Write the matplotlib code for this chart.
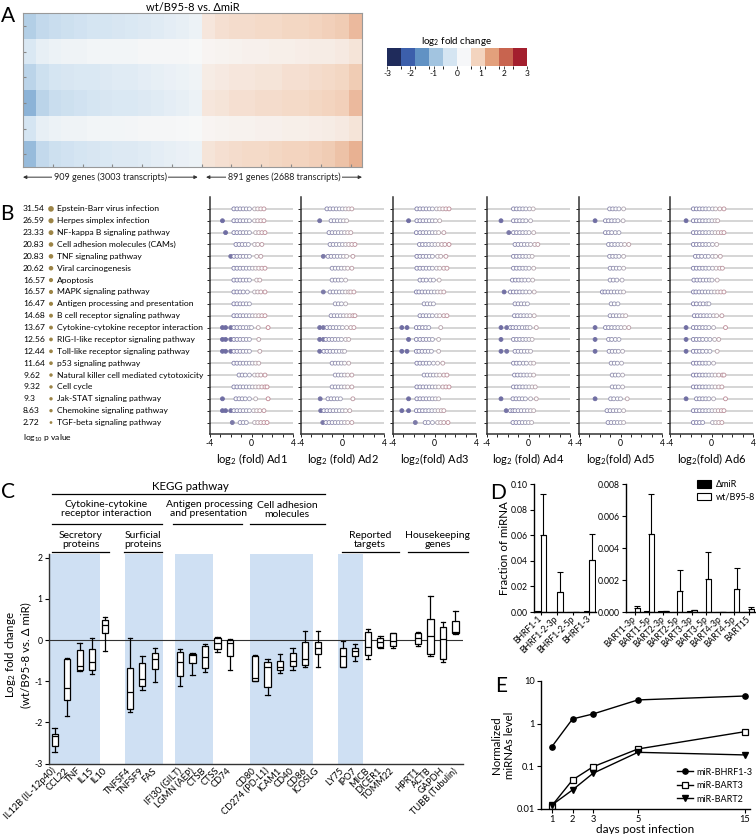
import numpy as np
import matplotlib
matplotlib.use('Agg')
import matplotlib.pyplot as plt
from matplotlib.colors import ListedColormap, BoundaryNorm, LinearSegmentedColormap, Normalize
from matplotlib.cm import ScalarMappable

plt.rcParams['font.family'] = ['Lato', 'DejaVu Sans']
plt.rcParams['mathtext.fontset'] = 'custom'
plt.rcParams['mathtext.rm'] = 'Lato'
plt.rcParams['mathtext.it'] = 'Lato:italic'
plt.rcParams['mathtext.bf'] = 'Lato:bold'
plt.rcParams['axes.unicode_minus'] = False

# ---------------- DATA ----------------
# Panel A: heatmap (6 donors), binned transcripts (left: down, right: up)
n_left_transcripts, n_right_transcripts = 3003, 2688
n_left_genes, n_right_genes = 909, 891
heat_row1 = [-1.0, -0.8, -0.75, -0.7, -0.65, -0.6, -0.6, -0.55, -0.5, -0.45, -0.4, -0.35, -0.3, -0.2,
             0.3, 0.4, 0.45, 0.45, 0.5, 0.5, 0.55, 0.55, 0.6, 0.65, 0.7, 0.9]
heat_row2 = [-0.5, -0.3, -0.2, -0.15, -0.15, -0.1, -0.1, -0.1, -0.1, -0.05, -0.05, -0.05, -0.05, -0.02,
             0.05, 0.08, 0.1, 0.12, 0.12, 0.15, 0.15, 0.18, 0.2, 0.2, 0.25, 0.35]
heat_row3 = [-0.9, -0.7, -0.6, -0.55, -0.5, -0.5, -0.45, -0.4, -0.4, -0.35, -0.3, -0.25, -0.2, -0.15,
             0.2, 0.25, 0.3, 0.3, 0.35, 0.35, 0.4, 0.4, 0.45, 0.5, 0.55, 0.7]
heat_row4 = [-1.4, -0.9, -0.75, -0.7, -0.65, -0.6, -0.55, -0.5, -0.5, -0.45, -0.4, -0.35, -0.3, -0.2,
             0.3, 0.35, 0.4, 0.4, 0.45, 0.45, 0.5, 0.5, 0.55, 0.6, 0.65, 0.9]
heat_row5 = [-0.6, -0.3, -0.2, -0.15, -0.15, -0.1, -0.1, -0.1, -0.08, -0.05, -0.05, -0.05, -0.03, -0.02,
             0.05, 0.08, 0.1, 0.1, 0.12, 0.12, 0.15, 0.15, 0.18, 0.2, 0.25, 0.35]
heat_row6 = [-1.3, -0.8, -0.7, -0.65, -0.6, -0.55, -0.5, -0.45, -0.45, -0.4, -0.35, -0.3, -0.25, -0.2,
             0.35, 0.4, 0.45, 0.5, 0.5, 0.55, 0.6, 0.6, 0.65, 0.7, 0.8, 1.0]
heat_left_bins, heat_right_bins = 14, 12
cbar_ticks = [-3, -2, -1, 0, 1, 2, 3]

# Panel B: pathways
pathways = ['Epstein-Barr virus infection', 'Herpes simplex infection', 'NF-kappa B signaling pathway',
            'Cell adhesion molecules (CAMs)', 'TNF signaling pathway', 'Viral carcinogenesis', 'Apoptosis',
            'MAPK signaling pathway', 'Antigen processing and presentation', 'B cell receptor signaling pathway',
            'Cytokine-cytokine receptor interaction', 'RIG-I-like receptor signaling pathway',
            'Toll-like receptor signaling pathway', 'p53 signaling pathway',
            'Natural killer cell mediated cytotoxicity', 'Cell cycle', 'Jak-STAT signaling pathway',
            'Chemokine signaling pathway', 'TGF-beta signaling pathway']
log10_p = [31.54, 26.59, 23.33, 20.83, 20.83, 20.62, 16.57, 16.57, 16.47, 14.68, 13.67, 12.56, 12.44,
           11.64, 9.62, 9.32, 9.3, 8.63, 2.72]
log10_p_text = ['31.54', '26.59', '23.33', '20.83', '20.83', '20.62', '16.57', '16.57', '16.47', '14.68',
                '13.67', '12.56', '12.44', '11.64', '9.62', '9.32', '9.3', '8.63', '2.72']

ad1 = [[-1.7, -1.4, -1.1, -0.8, -0.5, -0.2, 0.3, 0.6, 0.9, 1.2],
       [-2.8, -1.7, -1.4, -1.1, -0.8, -0.5, -0.2, 0.3, 0.6, 0.9, 1.2],
       [-2.5, -1.7, -1.4, -1.1, -0.8, -0.5, -0.2, 0.4, 0.7, 1.0, 1.3],
       [-1.5, -1.2, -0.9, -0.6, -0.3, 0.3, 0.6, 1.0],
       [-2.0, -1.7, -1.4, -1.1, -0.8, -0.5, -0.2, 0.5, 0.9],
       [-1.7, -1.4, -1.1, -0.8, -0.5, -0.2, 0.1, 0.4, 0.7, 1.0, 1.3],
       [-1.7, -1.4, -1.1, -0.8, -0.5, -0.2, 0.5, 0.8],
       [-1.7, -1.4, -1.1, -0.8, -0.4, 0.3, 0.6, 0.9, 1.3],
       [-1.7, -1.4, -1.1, -0.8, -0.5, -0.2],
       [-1.7, -1.4, -1.1, -0.8, -0.5, -0.2, 0.1, 0.4, 0.7, 1.0, 1.3],
       [-2.8, -2.5, -2.0, -1.7, -1.4, -1.1, -0.8, -0.5, -0.2, 0.0, 0.65, 1.6],
       [-2.8, -2.5, -2.0, -1.7, -1.4, -1.1, -0.8, -0.5, -0.2, 0.7],
       [-2.8, -2.5, -2.0, -1.7, -1.4, -1.1, -0.8, -0.5, -0.2, 0.8],
       [-1.7, -1.4, -1.1, -0.8, -0.5, -0.2, 0.1, 0.4, 0.7],
       [-1.2, -0.9, -0.6, -0.2, 0.3, 0.6, 0.9, 1.3],
       [-1.7, -1.4, -1.1, -0.8, -0.5, -0.2, 0.1, 0.4, 0.7, 1.0, 1.3, 1.5],
       [-2.8, -1.5, -1.2, -0.9, -0.6, -0.2, 0.4, 1.6],
       [-2.8, -2.5, -2.0, -1.7, -1.4, -1.1, -0.8, -0.5, -0.2, 0.2, 0.5, 0.8, 1.2],
       [-1.85, -1.1, -0.8, -0.5, 0.3, 0.6, 0.9, 1.2, 1.5]]
ad2 = [[-1.5, -1.2, -0.9, -0.6, -0.3, 0.0, 0.3, 0.6, 0.9],
       [-2.2, -1.1, -0.8, -0.5, -0.2, 0.1, 0.4],
       [-1.3, -1.0, -0.7, -0.4, -0.1, 0.2, 0.5, 0.8],
       [-1.2, -0.9, -0.6, -0.3, 0.0, 0.3, 0.6, 0.9, 1.2],
       [-1.85, -1.4, -1.1, -0.8, -0.5, -0.2, 0.1, 0.4, 1.0],
       [-1.0, -0.7, -0.4, -0.1, 0.2, 0.5, 0.9],
       [-1.0, -0.7, -0.4, -0.1, 0.3],
       [-1.85, -1.2, -0.9, -0.6, -0.3, 0.0, 0.3, 0.6, 0.8, 1.1],
       [-0.7, -0.4, -0.1, 0.3],
       [-1.1, -0.8, -0.5, -0.2, 0.1, 0.4, 0.7, 1.0, 1.2],
       [-2.2, -1.85, -1.5, -1.2, -0.9, -0.6, -0.3, 0.0, 0.4, 0.8, 1.1],
       [-2.2, -1.85, -1.6, -1.3, -1.0, -0.7, -0.4, -0.1, 0.3, 0.6],
       [-2.2, -1.8, -1.5, -1.2, -0.9, -0.6, -0.3, 0.0, 0.2],
       [-1.0, -0.7, -0.4, -0.1, 0.2, 0.6],
       [-0.7, -0.4, -0.1, 0.2, 0.5, 0.9],
       [-1.0, -0.7, -0.4, -0.1, 0.2, 0.5, 0.9],
       [-2.15, -1.4, -1.1, -0.8, -0.5, -0.2, 1.0],
       [-2.1, -1.8, -1.5, -1.2, -0.9, -0.6, -0.3, 0.0, 0.3, 0.7],
       [-1.9, -1.6, -1.3, -1.0, -0.7, -0.4, -0.1, 0.2, 0.5, 0.9]]
ad3 = [[-1.7, -1.4, -1.1, -0.8, -0.5, -0.2, 0.2, 0.5, 0.8, 1.1, 1.4],
       [-2.5, -1.7, -1.4, -1.1, -0.8, -0.5, -0.2, 0.1, 0.5],
       [-1.75, -1.4, -1.1, -0.8, -0.5, -0.2, 0.1, 0.4, 0.9],
       [-1.45, -1.15, -0.85, -0.55, -0.25, 0.05, 0.35, 0.7, 1.0, 1.4],
       [-1.7, -1.4, -1.1, -0.8, -0.5, -0.2, 0.3, 0.6, 1.1],
       [-1.7, -1.4, -1.1, -0.8, -0.5, -0.2, 0.2, 0.5, 0.9, 1.2],
       [-1.4, -1.1, -0.8, -0.4, -0.1, 0.45],
       [-1.75, -1.5, -1.2, -0.9, -0.6, -0.3, 0.0, 0.3, 0.6, 0.9],
       [-1.0, -0.7, -0.4, -0.1],
       [-1.4, -1.1, -0.8, -0.5, -0.2, 0.2, 0.5, 0.9, 1.2],
       [-3.15, -2.65, -1.75, -1.45, -1.15, -0.85, -0.55, 0.6],
       [-2.5, -1.75, -1.4, -1.1, -0.8, -0.5, -0.2, 0.4],
       [-3.15, -2.65, -1.75, -1.5, -1.2, -0.9, -0.6, -0.3, 0.4],
       [-1.7, -1.4, -1.1, -0.8, -0.5, -0.1, 0.3, 0.8],
       [-1.0, -0.7, -0.4, -0.1, 0.2, 0.5, 0.9, 1.2],
       [-1.7, -1.4, -1.1, -0.8, -0.5, -0.2, 0.1, 0.4, 0.8, 1.1, 1.4],
       [-2.5, -1.7, -1.4, -1.1, -0.8, -0.5, -0.2, 0.1, 0.4],
       [-3.15, -2.5, -1.75, -1.45, -1.15, -0.85, -0.55, -0.25, 0.05, 0.35, 0.65, 0.9],
       [-1.85, -0.9, -0.6, -0.2, 0.3, 0.6, 0.9, 1.3]]
ad4 = [[-1.45, -1.15, -0.85, -0.55, -0.25, 0.1, 0.45],
       [-2.65, -1.45, -1.15, -0.85, -0.55, -0.25, 0.2],
       [-1.9, -1.45, -1.15, -0.85, -0.55, -0.25, 0.05, 0.5],
       [-1.3, -1.0, -0.7, -0.4, -0.1, 0.2, 0.6, 0.9],
       [-1.45, -1.15, -0.85, -0.55, -0.25, 0.05, 0.35],
       [-1.45, -1.15, -0.85, -0.55, -0.25, 0.05, 0.5],
       [-1.55, -1.25, -0.95, -0.65, -0.35, 0.0, 0.4],
       [-2.35, -1.75, -1.45, -1.15, -0.85, -0.55, -0.25, 0.1, 0.55],
       [-1.3, -1.0, -0.7, -0.4, -0.1],
       [-1.35, -1.05, -0.75, -0.45, -0.15, 0.15, 0.55],
       [-2.65, -2.1, -1.75, -1.5, -1.2, -0.9, -0.6, -0.3, -0.1, 0.15, 0.75],
       [-2.65, -1.45, -1.15, -0.85, -0.55, -0.25, 0.05, 0.35],
       [-2.65, -2.1, -1.3, -1.0, -0.7, -0.4, -0.1, 0.2],
       [-1.45, -1.15, -0.85, -0.5, -0.2, 0.2, 0.5],
       [-1.35, -1.05, -0.75, -0.45, -0.15, 0.15, 0.5],
       [-1.45, -1.15, -0.85, -0.55, -0.25, 0.05, 0.35, 0.65],
       [-2.65, -1.5, -1.2, -0.9, -0.6, -0.3, 0.2, 0.75],
       [-2.15, -1.75, -1.5, -1.3, -1.0, -0.7, -0.4, -0.1, 0.2, 0.5],
       [-1.5, -1.2, -0.9, -0.6, -0.3, 0.0, 0.3]]
ad5 = [[-1.05, -0.75, -0.45, -0.15, 0.3],
       [-2.45, -1.45, -1.15, -0.85, -0.55, -0.25, 0.25],
       [-1.45, -1.15, -0.85, -0.5, -0.15],
       [-1.15, -0.85, -0.55, -0.25, 0.05, 0.4, 0.8],
       [-1.05, -0.75, -0.45, -0.15, 0.3],
       [-1.0, -0.7, -0.4, -0.1, 0.3],
       [-1.0, -0.7, -0.35, 0.15],
       [-1.75, -1.5, -1.2, -0.9, -0.6, -0.3, 0.0, 0.3],
       [-0.9, -0.6, -0.25],
       [-1.0, -0.7, -0.4, -0.1, 0.2, 0.5],
       [-2.45, -1.45, -1.15, -0.85, -0.55, -0.25, 0.05, 0.4, 0.8],
       [-2.45, -1.15, -0.85, -0.5, -0.15],
       [-2.45, -1.1, -0.8, -0.5, -0.2, 0.2],
       [-0.9, -0.6, -0.3, 0.1],
       [-0.8, -0.5, -0.2, 0.2],
       [-0.8, -0.5, -0.2, 0.2],
       [-2.45, -0.95, -0.65, -0.3, 0.0, 0.65],
       [-1.3, -1.0, -0.7, -0.4, -0.1, 0.3],
       [-1.2, -0.9, -0.6, -0.3, 0.0, 0.3]]
ad6 = [[-1.75, -1.45, -1.15, -0.85, -0.55, -0.25, 0.1, 0.4, 0.8, 1.2],
       [-2.45, -1.75, -1.45, -1.15, -0.85, -0.55, -0.25, 0.05, 0.35, 0.6],
       [-1.75, -1.45, -1.15, -0.85, -0.55, -0.25, 0.05, 0.35, 0.65, 0.95, 1.2],
       [-1.75, -1.45, -1.15, -0.85, -0.55, -0.25, 0.1, 0.5],
       [-1.55, -1.25, -0.95, -0.6, -0.3, 0.1, 0.4, 0.85],
       [-1.75, -1.45, -1.15, -0.85, -0.55, -0.25, 0.1, 0.45, 0.8, 1.05],
       [-1.7, -1.4, -1.1, -0.8, -0.5, -0.2, 0.05, 0.55],
       [-1.75, -1.5, -1.2, -0.9, -0.6, -0.3, 0.0, 0.3, 0.6, 0.9, 1.2],
       [-1.75, -1.45, -1.1, -0.8, -0.45, -0.25],
       [-1.65, -1.35, -1.05, -0.75, -0.45, -0.15, 0.2, 0.5, 1.0],
       [-2.45, -1.75, -1.45, -1.15, -0.85, -0.55, -0.25, 0.2, 1.35],
       [-2.45, -1.75, -1.45, -1.15, -0.85, -0.5, -0.15, 0.3, 0.7],
       [-2.45, -1.75, -1.45, -1.15, -0.85, -0.5, -0.15, 0.55],
       [-1.75, -1.45, -1.15, -0.85, -0.55, -0.25, 0.2],
       [-1.75, -1.45, -1.15, -0.85, -0.55, -0.25, 0.05, 0.35, 0.7, 1.05, 1.2],
       [-1.75, -1.45, -1.15, -0.85, -0.55, -0.25, 0.05, 0.35, 0.7, 1.0],
       [-2.45, -1.45, -1.15, -0.85, -0.55, -0.25, 0.2, 1.35],
       [-1.75, -1.45, -1.15, -0.85, -0.55, -0.25, 0.05, 0.35, 0.65, 0.95, 1.2],
       [-1.75, -1.45, -1.15, -0.85, 0.1, 0.4, 0.7, 1.0]]
ad_labels = ['log$_2$ (fold) Ad1', 'log$_2$ (fold) Ad2', 'log$_2$(fold) Ad3',
             'log$_2$ (fold) Ad4', 'log$_2$(fold) Ad5', 'log$_2$(fold) Ad6']

# Panel C: box plots (whisker low, Q1, median, Q3, whisker high)
c_genes = ['IL12B (IL-12p40)', 'CCL22', 'TNF', 'IL15', 'IL10',
           'TNFSF4', 'TNFSF9', 'FAS',
           'IFI30 (GILT)', 'LGMN (AEP)', 'CTSB', 'CTSS', 'CD74',
           'CD80', 'CD274 (PD-L1)', 'ICAM1', 'CD40', 'CD86', 'ICOSLG',
           'LY75', 'IPO7', 'MICB', 'DICER1', 'TOMM22',
           'HPRT1', 'ACTB', 'GAPDH', 'TUBB (Tubulin)']
c_group_sizes = [5, 3, 5, 6, 5, 4]
c_shaded_groups = [(0, 3), (5, 7), (8, 10), (13, 17), (19, 20)]  # gene index ranges with blue background
c_whishi = [-2.14, -0.43, -0.08, 0.06, 0.56, 0.06, -0.38, -0.20, -0.22, -0.32, -0.10, 0.08, 0.02,
            -0.36, -0.45, -0.35, -0.20, 0.23, 0.23, -0.02, -0.10, 0.26, 0.10, 0.18, 0.20, 1.07, 0.44, 0.70]
c_q3 = [-2.27, -0.47, -0.24, -0.23, 0.48, -0.69, -0.55, -0.31, -0.30, -0.35, -0.15, 0.04, 0.00,
        -0.38, -0.53, -0.51, -0.31, -0.06, -0.04, -0.19, -0.19, 0.19, 0.04, 0.16, 0.18, 0.51, 0.31, 0.46]
c_med = [-2.33, -1.16, -0.63, -0.54, 0.36, -1.27, -0.95, -0.45, -0.53, -0.36, -0.42, -0.08, -0.08,
         -0.91, -0.66, -0.65, -0.51, -0.45, -0.20, -0.38, -0.27, -0.18, -0.06, -0.02, 0.04, 0.10, 0.02, 0.20]
c_q1 = [-2.57, -1.46, -0.74, -0.73, 0.16, -1.67, -1.11, -0.71, -0.87, -0.57, -0.67, -0.23, -0.38,
        -0.99, -1.13, -0.74, -0.62, -0.61, -0.34, -0.65, -0.39, -0.36, -0.16, -0.15, -0.10, -0.35, -0.45, 0.16]
c_whislo = [-2.73, -1.84, -0.75, -0.83, -0.27, -1.74, -1.21, -1.01, -1.12, -0.85, -0.77, -0.30, -0.73,
            -0.99, -1.33, -0.79, -0.73, -0.66, -0.65, -0.66, -0.51, -0.45, -0.20, -0.20, -0.14, -0.39, -0.53, 0.15]

# Panel D
d_left_labels = ['BHRF1-1', 'BHRF1-2-3p', 'BHRF1-2-5p', 'BHRF1-3']
d_left_dmir = [0.0004, 0.0003, 0.0003, 0.0004]
d_left_wt = [0.060, 0.0153, 0.0003, 0.041]
d_left_wt_err = [0.032, 0.0157, 0.0, 0.020]
d_right_labels = ['BART1-3p', 'BART1-5p', 'BART2-3p', 'BART2-5p', 'BART3-3p', 'BART3-5p',
                  'BART4-3p', 'BART4-5p', 'BART15']
d_right_dmir = [0.00003, 0.00004, 0.00006, 0.00003, 0.00005, 0.00003, 0.00003, 0.00003, 0.00003]
d_right_wt = [0.00025, 0.0049, 0.00005, 0.0013, 0.0001, 0.00206, 0.00003, 0.00143, 0.0002]
d_right_wt_err = [0.00015, 0.0025, 0.0, 0.0013, 0.00003, 0.0017, 0.0, 0.00135, 0.00012]

# Panel E
e_days = [1, 2, 3, 5, 15]
e_bhrf1_3 = [0.29, 1.29, 1.69, 3.6, 4.45]
e_bart3 = [0.012, 0.048, 0.098, 0.255, 0.65]
e_bart2 = [0.0124, 0.028, 0.069, 0.213, 0.185]

# ---------------- FIGURE ----------------
W, H = 756, 834
fig = plt.figure(figsize=(W / 100, H / 100), dpi=100)


def ax_px(x, y, w, h):
    return fig.add_axes([x / W, 1 - (y + h) / H, w / W, h / H])


cb_colors = ['#1f2b5b', '#3c5fab', '#6192c4', '#a2c4e0', '#d5e5f2', '#f6f7f9',
             '#f3d4bf', '#e3a07c', '#c8644f', '#a31f2e']
heat_cmap = LinearSegmentedColormap.from_list('heat', [
    (0.0, '#1f2b5b'), (0.1, '#3c5fab'), (0.2, '#6192c4'), (0.3, '#a2c4e0'), (0.4, '#d5e5f2'),
    (0.5, '#f8f8f8'), (0.6, '#f3d4bf'), (0.7, '#e3a07c'), (0.8, '#c8644f'), (0.9, '#a31f2e'),
    (1.0, '#7a1020')])

# ---- Panel A ----
axA = ax_px(23, 13, 339, 154)
heat = np.array([heat_row1, heat_row2, heat_row3, heat_row4, heat_row5, heat_row6])
n_tot = n_left_transcripts + n_right_transcripts
xedges = np.concatenate([np.linspace(0, n_left_transcripts, heat_left_bins + 1),
                         np.linspace(n_left_transcripts, n_tot, heat_right_bins + 1)[1:]])
axA.pcolormesh(xedges, np.arange(heat.shape[0] + 1), heat, cmap=heat_cmap, vmin=-3, vmax=3)
axA.set_xlim(0, n_tot)
axA.set_ylim(heat.shape[0], 0)
axA.set_xticks(np.arange(500, n_tot, 500))
axA.set_yticks(np.arange(heat.shape[0]) + 0.5)
axA.tick_params(direction='in', length=2, color='#888888', labelbottom=False, labelleft=False)
for s in axA.spines.values():
    s.set_color('#999999')
    s.set_linewidth(0.8)
axA.set_title('wt/B95-8 vs. ΔmiR', fontsize=8, pad=1.5)
tr = axA.get_xaxis_transform()
gap = 70
for (x0, x1, txt) in [(0, n_left_transcripts - gap,
                       f'{n_left_genes} genes ({n_left_transcripts} transcripts)'),
                      (n_left_transcripts + gap, n_tot,
                       f'{n_right_genes} genes ({n_right_transcripts} transcripts)')]:
    axA.annotate('', xy=(x0, -0.066), xytext=(x1, -0.066), xycoords=tr, textcoords=tr,
                 arrowprops=dict(arrowstyle='<|-|>', color='#333333', lw=0.7, mutation_scale=5,
                                 shrinkA=0, shrinkB=0), annotation_clip=False)
    axA.text((x0 + x1) / 2, -0.066, txt, transform=tr, ha='center', va='center', fontsize=6.5,
             color='#222222', bbox=dict(facecolor='white', edgecolor='none', pad=1.2), clip_on=False)

axCB = ax_px(387, 48, 140, 18)
sm = ScalarMappable(norm=BoundaryNorm(np.linspace(-3, 3, 11), 10), cmap=ListedColormap(cb_colors))
cb = fig.colorbar(sm, cax=axCB, orientation='horizontal', ticks=cbar_ticks)
cb.outline.set_visible(False)
cb.ax.tick_params(labelsize=6, length=2, width=0.5, pad=1)
cb.ax.set_title('log$_2$ fold change', fontsize=7, pad=2)

# ---- Panel B ----
axL = ax_px(0, 197, 205, 237.4)
axL.set_xlim(0, 205)
axL.set_ylim(19, -1)
axL.axis('off')
for i, (name, p, ptxt) in enumerate(zip(pathways, log10_p, log10_p_text)):
    axL.text(23, i, ptxt, fontsize=6.1, va='center', ha='left')
    axL.text(57, i, name, fontsize=6.1, va='center', ha='left')
    d_pt = (2.5 + 0.1 * p) * 0.72
    axL.scatter([51], [i], s=d_pt ** 2, color='#9c8446', edgecolors='none', clip_on=False)
axL.text(23, 19.3, 'log$_{10}$ p value', fontsize=6.1, va='center', ha='left', clip_on=False)

edge_cmap = LinearSegmentedColormap.from_list('edge', [(0.0, '#6f6da3'), (0.55, '#a09fb6'),
                                                       (0.65, '#b6a8b0'), (1.0, '#c27886')])
edge_norm = Normalize(-2.5, 2.0)
panel_x = [210, 301, 393, 487, 579, 670]
for ax_x, dat, lab in zip(panel_x, [ad1, ad2, ad3, ad4, ad5, ad6], ad_labels):
    ax = ax_px(ax_x, 197, 83, 237.4)
    ax.set_xlim(-4, 4)
    ax.set_ylim(19, -1)
    for i, row in enumerate(dat):
        ax.axhline(i, color='#d5d5d5', lw=1.4, zorder=1)
        v = np.array(row)
        ec = edge_cmap(edge_norm(v))
        fc = [ec[j] if v[j] < -1.8 else (1, 1, 1, 1) for j in range(len(v))]
        ax.scatter(v, np.full(len(v), i), s=8, facecolors=fc, edgecolors=ec, linewidths=0.6, zorder=3)
    for s in ['top', 'right']:
        ax.spines[s].set_visible(False)
    for s in ['left', 'bottom']:
        ax.spines[s].set_linewidth(1.1)
        ax.spines[s].set_color('#333333')
    ax.set_yticks(range(len(dat)))
    ax.set_yticklabels([])
    ax.set_xticks([-4, 0, 4])
    ax.set_xticks(range(-4, 5), minor=True)
    ax.tick_params(axis='both', which='both', length=2, width=0.6, labelsize=6.2, pad=1.5)
    ax.set_xlabel(lab, fontsize=8, labelpad=2)

# ---- Panel C ----
axC = ax_px(49, 553.5, 414, 210.1)
positions = []
start = 0
for g in c_group_sizes:
    positions.extend(range(start, start + g))
    start += g + 1
positions = np.array(positions, dtype=float)
for a, b in c_shaded_groups:
    axC.axvspan(positions[a] - 0.4, positions[b] + 0.62, color='#cfe0f3', lw=0, zorder=0)
axC.axhline(0, color='#333333', lw=0.8, zorder=1)
stats = [dict(whislo=lo, q1=q1, med=m, q3=q3, whishi=hi, fliers=[])
         for lo, q1, m, q3, hi in zip(c_whislo, c_q1, c_med, c_q3, c_whishi)]
lp = dict(color='black', lw=0.9)
axC.bxp(stats, positions=positions, widths=0.5, capwidths=0.35, patch_artist=True, showfliers=False,
        boxprops=dict(facecolor='white', edgecolor='black', lw=0.9), medianprops=lp,
        whiskerprops=lp, capprops=lp, zorder=3)
axC.set_xlim(-0.45, 32.6)
axC.set_ylim(-3, 2.1)
axC.set_yticks([-3, -2, -1, 0, 1, 2])
axC.set_xticks(positions)
axC.set_xticklabels(c_genes, rotation=45, ha='right', va='center', rotation_mode='anchor', fontsize=6.7)
axC.tick_params(axis='x', length=0, pad=4)
axC.tick_params(axis='y', length=3, width=0.8, labelsize=6.2, pad=1.5)
for s in ['top', 'right']:
    axC.spines[s].set_visible(False)
for s in ['left', 'bottom']:
    axC.spines[s].set_linewidth(1.0)
    axC.spines[s].set_color('#333333')
    axC.spines[s].set_zorder(4)

# ---- Panel D ----
bw = 0.35
axD1 = ax_px(534, 484, 62, 128)
xi = np.arange(len(d_left_labels))
axD1.bar(xi - bw / 2, d_left_dmir, width=bw, color='black', edgecolor='black', lw=0.8)
axD1.bar(xi + bw / 2, d_left_wt, width=bw, color='white', edgecolor='black', lw=0.8)
axD1.errorbar(xi + bw / 2, d_left_wt, yerr=[np.zeros(len(xi)), d_left_wt_err], fmt='none',
              ecolor='black', elinewidth=0.8, capsize=2, capthick=0.8)
axD1.set_xlim(-0.4, 3.4)
axD1.set_ylim(0, 0.10)
axD1.set_yticks(np.arange(0, 0.101, 0.02))
axD1.yaxis.set_major_formatter(matplotlib.ticker.FormatStrFormatter('%.2f'))
axD1.set_xticks(xi)
axD1.set_xticklabels(d_left_labels, rotation=45, ha='right', va='center', rotation_mode='anchor',
                     fontsize=6.2)

axD2 = ax_px(626, 484, 129, 128)
xj = np.arange(len(d_right_labels))
axD2.bar(xj - bw / 2, d_right_dmir, width=bw, color='black', edgecolor='black', lw=0.8, label='ΔmiR')
axD2.bar(xj + bw / 2, d_right_wt, width=bw, color='white', edgecolor='black', lw=0.8, label='wt/B95-8')
axD2.errorbar(xj + bw / 2, d_right_wt, yerr=[np.zeros(len(xj)), d_right_wt_err], fmt='none',
              ecolor='black', elinewidth=0.8, capsize=2, capthick=0.8)
axD2.set_xlim(-0.6, 8.45)
axD2.set_ylim(0, 0.008)
axD2.set_yticks(np.arange(0, 0.0081, 0.002))
axD2.yaxis.set_major_formatter(matplotlib.ticker.FormatStrFormatter('%.3f'))
axD2.set_xticks(xj)
axD2.set_xticklabels(d_right_labels, rotation=45, ha='right', va='center', rotation_mode='anchor',
                     fontsize=6.2)
axD2.legend(loc='upper right', bbox_to_anchor=(1.03, 1.06), frameon=False, fontsize=6.5,
            handlelength=1.6, handleheight=0.9, borderaxespad=0, labelspacing=0.4, handletextpad=0.5)
for ax in (axD1, axD2):
    for s in ['top', 'right']:
        ax.spines[s].set_visible(False)
    for s in ['left', 'bottom']:
        ax.spines[s].set_linewidth(1.0)
    ax.tick_params(axis='y', length=3, width=0.8, labelsize=6.2, pad=1.5)
    ax.tick_params(axis='x', length=2, width=0.8, pad=2)

# ---- Panel E ----
day_bp = [-5, 1, 3, 5, 15, 40]
pos_bp = [-6, 0, 2, 4.17, 9.37, 9.37 + 25 * 0.52]


def fwd(d):
    return np.interp(d, day_bp, pos_bp)


def inv(p):
    return np.interp(p, pos_bp, day_bp)


axE = ax_px(541, 681, 209, 128)
axE.set_yscale('log')
axE.set_xscale('function', functions=(fwd, inv))
axE.plot(e_days, e_bhrf1_3, '-o', color='black', lw=1, ms=3.8, label='miR-BHRF1-3')
axE.plot(e_days, e_bart3, '-s', color='black', mfc='white', mew=0.9, lw=1, ms=4.8, label='miR-BART3')
axE.plot(e_days, e_bart2, '-v', color='black', lw=1, ms=3.8, label='miR-BART2')
axE.set_xlim(0.47, 15.46)
axE.set_ylim(0.01, 10)
axE.set_xticks(e_days)
axE.set_xticklabels([str(d) for d in e_days])
axE.xaxis.set_minor_locator(matplotlib.ticker.NullLocator())
axE.set_yticks([0.01, 0.1, 1, 10])
axE.set_yticklabels(['0.01', '0.1', '1', '10'])
axE.yaxis.set_minor_locator(matplotlib.ticker.NullLocator())
axE.tick_params(length=3, width=0.8, labelsize=6.7, pad=1.5)
for s in ['top', 'right']:
    axE.spines[s].set_visible(False)
for s in ['left', 'bottom']:
    axE.spines[s].set_linewidth(1.0)
axE.set_xlabel('days post infection', fontsize=8.5, labelpad=0)
axE.legend(loc='lower right', bbox_to_anchor=(1.04, 0.0), frameon=False, fontsize=6.5,
           handlelength=1.8, borderaxespad=0.2, labelspacing=0.5, handletextpad=0.4)

# ---- overlay: panel letters, headers ----
ov = fig.add_axes([0, 0, 1, 1])
ov.set_xlim(0, W)
ov.set_ylim(H, 0)
ov.axis('off')
for letter, (x, y) in {'A': (8, 16), 'B': (7, 214), 'C': (8, 492), 'D': (498, 493), 'E': (501, 686)}.items():
    ov.text(x, y, letter, fontsize=15, ha='center', va='center')

ov.text(190, 486, 'KEGG pathway', fontsize=8.3, ha='center', va='center')
ov.plot([52, 325], [493.5, 493.5], color='black', lw=0.9)
headers = [('Cytokine-cytokine\nreceptor interaction', 106, 509, 52, 162, 524),
           ('Antigen processing\nand presentation', 209, 509, 173, 242, 524),
           ('Cell adhesion\nmolecules', 287, 510, 250, 325, 524),
           ('Secretory\nproteins', 81, 540, 52, 109, 552),
           ('Surficial\nproteins', 143, 540, 124, 162, 552),
           ('Reported\ntargets', 370, 540, 342, 399, 552),
           ('Housekeeping\ngenes', 438, 540, 408, 468, 552)]
for txt, cx, cy, x0, x1, ly in headers:
    ov.text(cx, cy, txt, fontsize=7.5, ha='center', va='center', linespacing=1.05)
    ov.plot([x0, x1], [ly, ly], color='black', lw=0.9)

ov.text(17, 655, 'Log$_2$ fold change\n(wt/B95-8 vs. Δ miR)', fontsize=8.3, rotation=90,
        ha='center', va='center', multialignment='center', linespacing=1.2)
ov.text(505, 548, 'Fraction of miRNA', fontsize=8.3, rotation=90, ha='center', va='center')
ov.text(503, 745, 'Normalized\nmiRNAs level', fontsize=8.3, rotation=90, ha='center', va='center',
        multialignment='center', linespacing=1.15)

fig.savefig('out.png', dpi=100)
